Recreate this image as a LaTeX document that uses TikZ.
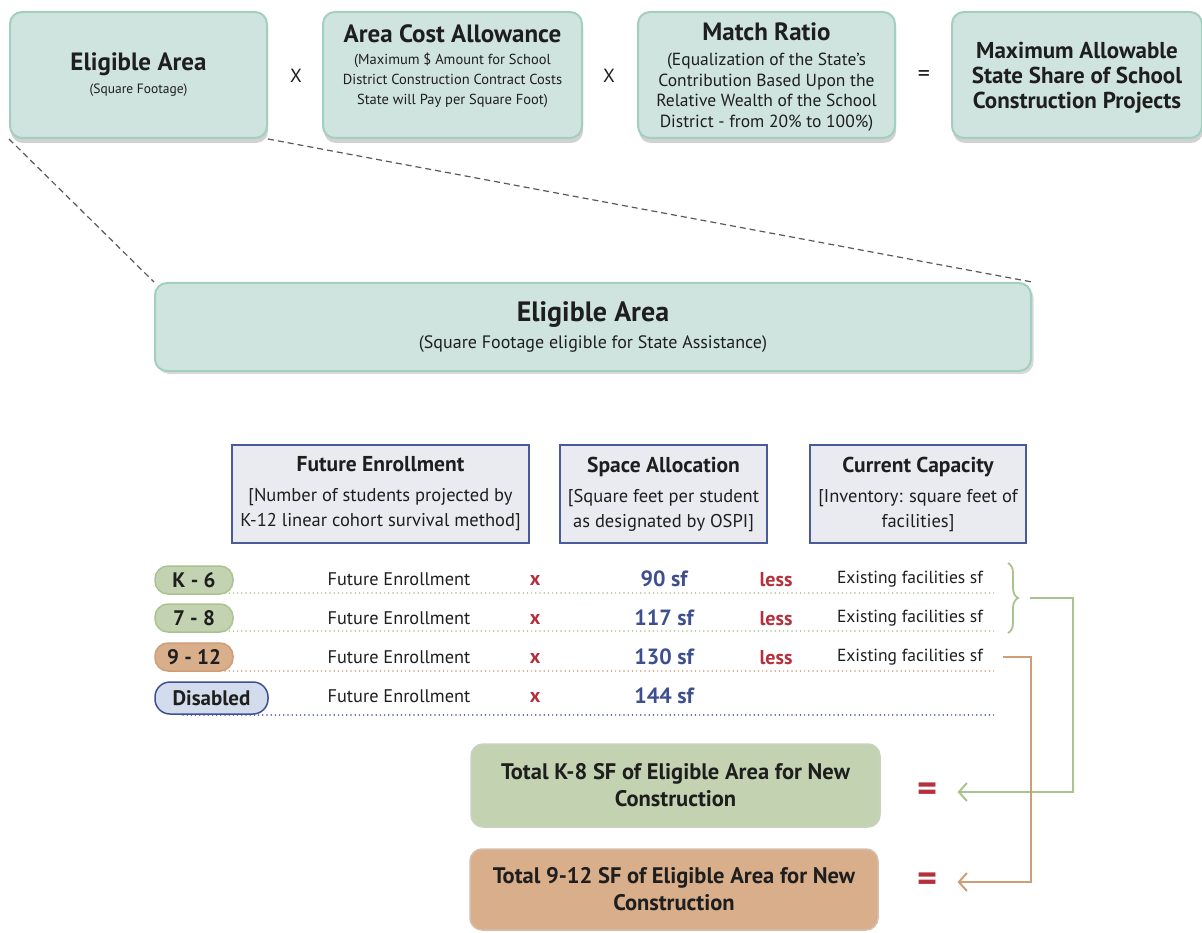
\documentclass[tikz,border=0pt]{standalone}
\usepackage{fontspec}
\setmainfont{PT Sans}
\usetikzlibrary{arrows.meta,positioning,shadows,decorations.pathreplacing}
\definecolor{tealbg}{HTML}{CFE4DE}
\definecolor{tealln}{HTML}{A3CFC1}
\definecolor{hdbg}{HTML}{E9EBF1}
\definecolor{hdln}{HTML}{4A5B9B}
\definecolor{grnbg}{HTML}{C3D3B1}
\definecolor{grnln}{HTML}{A9C38F}
\definecolor{orgbg}{HTML}{D8AE8B}
\definecolor{orgln}{HTML}{CF9D76}
\definecolor{blubg}{HTML}{D3DCEC}
\definecolor{bluln}{HTML}{3F4F93}
\definecolor{redop}{HTML}{B3303C}
\definecolor{numbl}{HTML}{3D4F8F}
\definecolor{ink}{HTML}{1E1E1E}

\begin{document}
\begin{tikzpicture}[x=1pt,y=-1pt,text=ink,
  tb/.style={draw=tealln,fill=tealbg,line width=2pt,rounded corners=12pt,minimum width=257pt,minimum height=126pt,align=center,inner sep=0pt,font=\fontsize{14.5}{20}\selectfont,drop shadow={shadow xshift=1pt,shadow yshift=-5pt,opacity=.3,fill=black!60}},
  hd/.style={draw=hdln,fill=hdbg,line width=1.5pt,minimum height=98pt,align=center,inner sep=0pt,font=\fontsize{18.5}{25}\selectfont},
  pill/.style={line width=1.5pt,rounded corners=13pt,minimum height=28pt,inner sep=0pt,font=\fontsize{21}{22}\selectfont\bfseries},
  tot/.style={line width=1.5pt,rounded corners=12pt,minimum width=409pt,minimum height=83pt,align=center,font=\fontsize{22.5}{27}\selectfont\bfseries},
  rt/.style={font=\fontsize{18.3}{20}\selectfont},
  op/.style={text=redop,font=\fontsize{20}{22}\selectfont\bfseries},
  nm/.style={text=numbl,font=\fontsize{22}{24}\selectfont\bfseries},
  dl/.style={line width=1.7pt,line cap=round,dash pattern=on 0pt off 4.2pt},
  a/.style={line width=2pt,-{Straight Barb[length=8pt,width=18pt]}}]
\useasboundingbox (0,0) rectangle (1202,933);
% top formula
\node[tb] (ea) at (138.5,75) {{\fontsize{25}{27}\selectfont\bfseries Eligible Area}\\[3pt]{\fontsize{13.5}{15}\selectfont (Square Footage)}};
\node[font=\fontsize{19}{21}\selectfont] (m1) at (296,76) {X};
\node[tb,minimum width=259pt,text depth=20pt] (aca) at (452.5,75) {{\fontsize{25}{27}\selectfont\bfseries Area Cost Allowance}\\[2pt](Maximum \$ Amount for School\\District Construction Contract Costs\\State will Pay per Square Foot)};
\node[font=\fontsize{19}{21}\selectfont] (m2) at (609,76) {X};
\node[tb,font=\fontsize{17.5}{20.5}\selectfont,text depth=-2pt] (mr) at (766.5,75) {{\fontsize{25}{27}\selectfont\bfseries Match Ratio}\\[5pt](Equalization of the State's\\Contribution Based Upon the\\Relative Wealth of the School\\District - from 20\% to 100\%)};
\node[font=\fontsize{24}{26}\selectfont] (eqt) at (924,76) {=};
\node[tb,minimum width=250pt,font=\fontsize{23}{25}\selectfont\bfseries,text depth=-5pt] (ms) at (1077,75) {Maximum Allowable\\State Share of School\\Construction Projects};

% zoom on eligible area
\node[draw=tealln,fill=tealbg,line width=2pt,rounded corners=12pt,minimum width=876pt,minimum height=88pt,align=center,drop shadow={shadow yshift=-3pt,opacity=.15,fill=black}] (big) at (593,327)
  {{\fontsize{28}{30}\selectfont\bfseries Eligible Area}\\[8pt]{\fontsize{18}{20}\selectfont (Square Footage eligible for State Assistance)}};
\draw[dashed,black!65,line width=1.2pt,dash pattern=on 6pt off 4pt] (ea.south west) -- (big.north west);
\draw[dashed,black!65,line width=1.2pt,dash pattern=on 6pt off 4pt] (ea.south east) -- (big.north east);

% column headers
\node[hd,minimum width=297pt] (fe) at (380.5,494) {{\fontsize{21.5}{23}\selectfont\bfseries Future Enrollment}\\[5pt][Number of students projected by\\K-12 linear cohort survival method]};
\node[hd,minimum width=207pt] (sa) at (663.5,494) {{\fontsize{21.5}{23}\selectfont\bfseries Space Allocation}\\[5pt][Square feet per student\\as designated by OSPI]};
\node[hd,minimum width=216pt] (cc) at (918,494) {{\fontsize{21.5}{23}\selectfont\bfseries Current Capacity}\\[5pt][Inventory: square feet of\\facilities]};

% dotted row lines
\draw[dl,grnln] (183,593) -- (995,593);
\draw[dl,grnln] (183,631) -- (995,631);
\draw[dl,orgln] (183,671) -- (995,671);
\draw[dl,bluln] (183,715) -- (995,715);

% rows
\node[pill,draw=grnln,fill=grnbg,minimum width=78pt] (k6) at (194,580) {K - 6};
\node[rt] (fe1) at (399,579) {Future Enrollment};
\node[op] (x1) at (535,580) {x};
\node[nm] (sf1) at (664,579) {90 sf};
\node[op] (ls1) at (776,580) {less};
\node[rt,font=\fontsize{17.5}{20}\selectfont] (ex1) at (910,579) {Existing facilities sf};

\node[pill,draw=grnln,fill=grnbg,minimum width=78pt] (g78) at (194,618) {7 - 8};
\node[rt] (fe2) at (399,618) {Future Enrollment};
\node[op] (x2) at (535,619) {x};
\node[nm] (sf2) at (664,618) {117 sf};
\node[op] (ls2) at (776,619) {less};
\node[rt,font=\fontsize{17.5}{20}\selectfont] (ex2) at (910,618) {Existing facilities sf};

\node[pill,draw=orgln,fill=orgbg,minimum width=78pt] (g912) at (194,657) {9 - 12};
\node[rt] (fe3) at (399,657) {Future Enrollment};
\node[op] (x3) at (535,658) {x};
\node[nm] (sf3) at (664,657) {130 sf};
\node[op] (ls3) at (776,658) {less};
\node[rt,font=\fontsize{17.5}{20}\selectfont] (ex3) at (910,657) {Existing facilities sf};

\node[pill,draw=bluln,fill=blubg,minimum width=113pt,minimum height=32pt,rounded corners=15pt] (dis) at (211.5,698) {Disabled};
\node[rt] (fe4) at (399,696) {Future Enrollment};
\node[op] (x4) at (535,697) {x};
\node[nm] (sf4) at (664,696) {144 sf};

% totals
\node[tot,draw=grnbg!85!black!60,fill=grnbg] (tk8) at (675.5,785.5) {Total K-8 SF of Eligible Area for New\\Construction};
\node[tot,draw=orgbg!85!black!60,fill=orgbg,minimum width=408pt,minimum height=81pt] (t912) at (674,889.5) {Total 9-12 SF of Eligible Area for New\\Construction};
\node[text=redop,font=\fontsize{38}{38}\selectfont\bfseries] (eq1) at (928,792) {=};
\node[text=redop,font=\fontsize{38}{38}\selectfont\bfseries] (eq2) at (928,882) {=};

% connectors
\draw[decorate,decoration={brace,amplitude=10pt},grnln,line width=1.8pt] (1008,563) -- (1008,633);
\coordinate (bt) at (1030,598);
\coordinate (ot) at (1003,657);
\draw[a,grnln] (bt) -- (1073,598) |- ([xshift=16pt]eq1.east);
\draw[a,orgln] (ot) -- (1031,657) |- ([xshift=16pt]eq2.east);
\end{tikzpicture}
\end{document}
